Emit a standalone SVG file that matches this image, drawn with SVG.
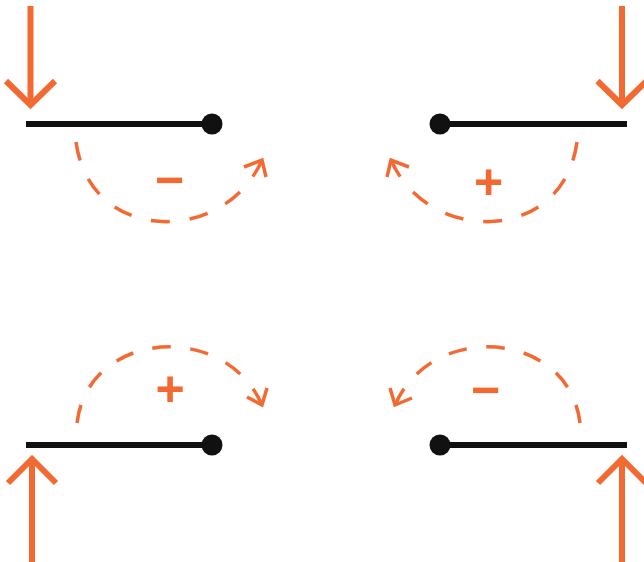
<svg xmlns="http://www.w3.org/2000/svg" width="644" height="562" viewBox="0 0 644 562">
  <style>
    .beam { stroke: #111111; stroke-width: 6; fill: none; }
    .pin { fill: #111111; }
    .force { stroke: #F26A32; stroke-width: 6; fill: none; stroke-linejoin: miter; }
    .moment { stroke: #F26A32; stroke-width: 3.5; fill: none; stroke-dasharray: 7.5 7.9167; }
    .head { fill: none; stroke: #F26A32; stroke-width: 3.5; stroke-linejoin: miter; }
    .sign { fill: #F26A32; font-family: "Liberation Sans", Arial, sans-serif; font-weight: bold; font-size: 50px; text-anchor: middle; }
  </style>
  <rect width="644" height="562" fill="#ffffff"/>

  <g id="beam-top-left">
    <line class="beam" x1="26" y1="124" x2="212" y2="124"/>
    <circle class="pin" cx="212" cy="124" r="10.5"/>
    <line class="force" x1="30.5" y1="6" x2="30.5" y2="105"/>
    <polyline class="force" points="6,81 30.5,105 55,81"/>
    <text class="sign" x="169.5" y="197">−</text>
  </g>

  <g id="beam-top-right">
    <line class="beam" x1="440" y1="124" x2="627" y2="124"/>
    <circle class="pin" cx="440" cy="124" r="10.5"/>
    <line class="force" x1="622" y1="6" x2="622" y2="105"/>
    <polyline class="force" points="597.5,81 622,105 646.5,81"/>
    <text class="sign" x="488.5" y="199">+</text>
  </g>

  <g id="beam-bottom-left">
    <line class="beam" x1="26" y1="445" x2="212" y2="445"/>
    <circle class="pin" cx="212" cy="445" r="10.5"/>
    <line class="force" x1="32" y1="459" x2="32" y2="562"/>
    <polyline class="force" points="8,483 32,459 56,483"/>
    <text class="sign" x="170" y="406">+</text>
  </g>

  <g id="beam-bottom-right">
    <line class="beam" x1="440" y1="445" x2="627" y2="445"/>
    <circle class="pin" cx="440" cy="445" r="10.5"/>
    <line class="force" x1="622" y1="459" x2="622" y2="562"/>
    <polyline class="force" points="598,483 622,459 646,483"/>
    <text class="sign" x="485.5" y="406.5">−</text>
  </g>

  <g id="connectors">
    <path class="moment" pathLength="100" d="M76,142 C90,245 225,245 262,160"/>
    <polyline class="head" points="244,167 262,160 266,177"/>
    <path class="moment" pathLength="100" d="M577,142 C563,245 428,245 391,160"/>
    <polyline class="head" points="409,167 391,160 387,177"/>
    <path class="moment" pathLength="100" d="M77,423 C88,330 225,320 262,405"/>
    <polyline class="head" points="247,397 262,405 267,388"/>
    <path class="moment" pathLength="100" d="M580,423 C569,330 432,320 395,405"/>
    <polyline class="head" points="412,398 395,405 390,388"/>
  </g>
</svg>
